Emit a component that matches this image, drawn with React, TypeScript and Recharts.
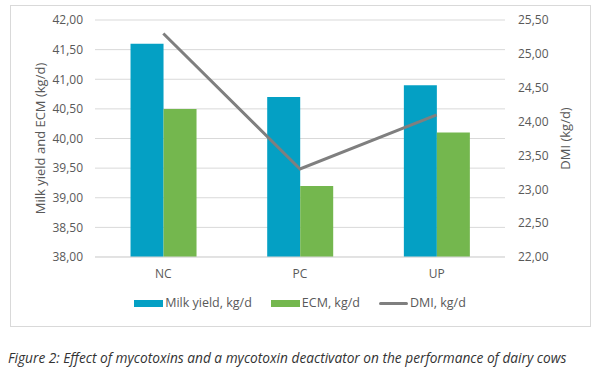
import {
  ComposedChart, Bar, Line, XAxis, YAxis, CartesianGrid,
} from 'recharts';

const groups = ['NC', 'PC', 'UP'];
const milkYield = [41.6, 40.7, 40.9];
const ecm = [40.5, 39.2, 40.1];
const dmi = [25.3, 23.3, 24.1];
const leftTicks = [38, 38.5, 39, 39.5, 40, 40.5, 41, 41.5, 42];
const rightTicks = [22, 22.5, 23, 23.5, 24, 24.5, 25, 25.5];

const series = [
  { key: 'milk', name: 'Milk yield, kg/d', color: '#04A0C4', kind: 'bar' },
  { key: 'ecm', name: 'ECM, kg/d', color: '#74B74E', kind: 'bar' },
  { key: 'dmi', name: 'DMI, kg/d', color: '#7F7F7F', kind: 'line' },
];

const data = groups.map((g, i) => ({ group: g, milk: milkYield[i], ecm: ecm[i], dmi: dmi[i] }));

const fmt = (v: number) => v.toFixed(2).replace('.', ',');
const font = '"Open Sans", sans-serif';
const tick = { fontSize: 12, fill: '#595959', fontFamily: font };

export default function App() {
  return (
    <div style={{ position: 'absolute', left: 0, top: 0, width: 600, height: 368, background: '#fff', fontFamily: font }}>
      <div style={{ position: 'absolute', left: 10, top: 5, width: 579, height: 320, border: '1px solid #d9d9d9' }} />
      <div style={{ position: 'absolute', left: 10, top: 5 }}>
        <ComposedChart width={580} height={320} data={data} barCategoryGap="26%" barGap={0}
          margin={{ top: 15, right: 0, left: 0, bottom: 0 }}>
          <CartesianGrid vertical={false} stroke="#d9d9d9" yAxisId="left" />
          <XAxis dataKey="group" height={68} tickLine={false} axisLine={{ stroke: '#d9d9d9' }}
            tickSize={0} tickMargin={12} tick={tick} />
          <YAxis yAxisId="left" width={85} domain={[38, 42]} ticks={leftTicks} tickFormatter={fmt}
            axisLine={false} tickLine={false} tickSize={0} tickMargin={12} tick={tick}
            label={{ value: 'Milk yield and ECM (kg/d)', angle: -90, position: 'insideLeft', offset: 30,
              style: { textAnchor: 'middle', fontSize: 13, fill: '#595959', fontFamily: font } }} />
          <YAxis yAxisId="right" orientation="right" width={85} domain={[22, 25.5]} ticks={rightTicks}
            tickFormatter={fmt} axisLine={false} tickLine={false} tickSize={0} tickMargin={13} tick={tick}
            label={{ value: 'DMI (kg/d)', angle: -90, position: 'insideRight', offset: 25,
              style: { textAnchor: 'middle', fontSize: 13, fill: '#595959', fontFamily: font } }} />
          <Bar yAxisId="left" dataKey="milk" name={series[0].name} fill={series[0].color} isAnimationActive={false} />
          <Bar yAxisId="left" dataKey="ecm" name={series[1].name} fill={series[1].color} isAnimationActive={false} />
          <Line yAxisId="right" dataKey="dmi" name={series[2].name} stroke={series[2].color} strokeWidth={3}
            dot={false} activeDot={false} type="linear" isAnimationActive={false} />
        </ComposedChart>
      </div>
      <div style={{ position: 'absolute', left: 10, top: 295, width: 580, display: 'flex', justifyContent: 'center',
        gap: 19, fontSize: 12.5, color: '#595959', lineHeight: '16px' }}>
        {series.map((s) => (
          <div key={s.key} style={{ display: 'flex', alignItems: 'center', gap: 2 }}>
            <span style={{ display: 'inline-block', width: 29, height: s.kind === 'bar' ? 7 : 3, background: s.color,
              borderRadius: s.kind === 'bar' ? 0 : 2 }} />
            <span>{s.name}</span>
          </div>
        ))}
      </div>
      <div style={{ position: 'absolute', left: 8, top: 348, fontSize: 13.7, fontStyle: 'italic', color: '#333',
        whiteSpace: 'nowrap' }}>
        Figure 2: Effect of mycotoxins and a mycotoxin deactivator on the performance of dairy cows
      </div>
    </div>
  );
}
